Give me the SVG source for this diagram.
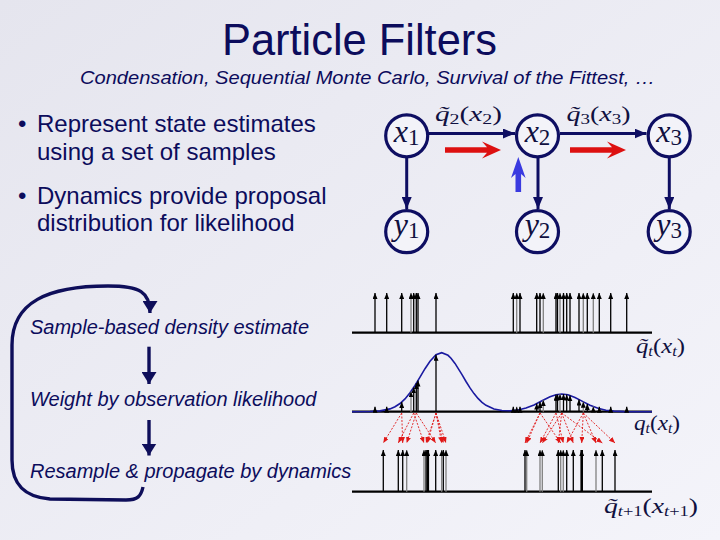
<svg xmlns="http://www.w3.org/2000/svg" width="720" height="540" viewBox="0 0 720 540">
<defs>
<linearGradient id="bg" x1="0" y1="0" x2="1" y2="1"><stop offset="0" stop-color="#e5e5ee"/><stop offset="1" stop-color="#f4f4fa"/></linearGradient>
<marker id="ak" viewBox="0 0 6 5" refX="6" refY="2.5" markerWidth="6" markerHeight="5" markerUnits="userSpaceOnUse" orient="auto"><path d="M0,0 L6,2.5 L0,5 z" fill="#000"/></marker>
<marker id="ar" viewBox="0 0 6 5" refX="6" refY="2.5" markerWidth="6" markerHeight="5" markerUnits="userSpaceOnUse" orient="auto"><path d="M0,0 L6,2.5 L0,5 z" fill="#e01818"/></marker>
<marker id="an" viewBox="0 0 12 10" refX="12" refY="5" markerWidth="12" markerHeight="10" markerUnits="userSpaceOnUse" orient="auto"><path d="M0,0 L12,5 L0,10 z" fill="#0e0e62"/></marker>
<marker id="af" viewBox="0 0 12 15" refX="12" refY="7.5" markerWidth="12" markerHeight="15" markerUnits="userSpaceOnUse" orient="auto"><path d="M0,0 L12,7.5 L0,15 z" fill="#0e0e5a"/></marker>
</defs>
<style>
.t{font-family:"Liberation Sans",Arial,sans-serif;fill:#0c0c5c}
.it{font-style:italic}
.m{font-family:"Liberation Serif","DejaVu Serif",serif;fill:#101040}
.i{font-style:italic}
.node{fill:#f3f3f9;stroke:#0e0e62;stroke-width:3.2}
.edge{stroke:#0e0e62;stroke-width:3;fill:none;marker-end:url(#an)}
.flow{stroke:#0e0e5a;stroke-width:3.4;fill:none;marker-end:url(#af)}
.pk{stroke:#000;stroke-width:1.3;marker-end:url(#ak)}
.pg{stroke:#808080;stroke-width:1.3;marker-end:url(#ak)}
.pt{stroke:#000;stroke-width:2.6;marker-end:url(#ak)}
.rd{stroke:#e01818;stroke-width:0.9;stroke-dasharray:2 1.5;fill:none;marker-end:url(#ar)}
.base{stroke:#000;stroke-width:2.2}
</style>
<rect width="720" height="540" fill="url(#bg)"/>

<text class="t" x="359.5" y="55" font-size="45" text-anchor="middle" textLength="275" lengthAdjust="spacingAndGlyphs">Particle Filters</text>
<text class="t it" x="80" y="84" font-size="19" textLength="575" lengthAdjust="spacingAndGlyphs">Condensation, Sequential Monte Carlo, Survival of the Fittest, …</text>

<g id="bullets" class="t" font-size="24">
<text x="18" y="132">•</text><text x="37" y="132">Represent state estimates</text>
<text x="37" y="160">using a set of samples</text>
<text x="18" y="204">•</text><text x="37" y="204">Dynamics provide proposal</text>
<text x="37" y="231">distribution for likelihood</text>
</g>

<g id="flow-steps" class="t it" font-size="20">
<text id="step-sample" x="30" y="334">Sample-based density estimate</text>
<text id="step-weight" x="30" y="406">Weight by observation likelihood</text>
<text id="step-resample" x="30" y="478">Resample &amp; propagate by dynamics</text>
</g>
<g id="flow-connectors">
<line class="flow" x1="149" y1="346.7" x2="149" y2="384"/>
<line class="flow" x1="149" y1="420" x2="149" y2="455.5"/>
<path class="flow" d="M143,487 C141,496 138,500 126,500 L50,499 C25,497 12,485 12,460 L12,345 C12,302 48,286 108,286 C140,286 150,292 150,313"/>
</g>

<g id="graph-connectors">
<line class="edge" x1="429" y1="133.5" x2="515" y2="133.5"/>
<line class="edge" x1="560" y1="133.5" x2="646.5" y2="133.5"/>
<line class="edge" x1="406.7" y1="158" x2="406.7" y2="209"/>
<line class="edge" x1="538" y1="158" x2="538" y2="209"/>
<line class="edge" x1="669.3" y1="158" x2="669.3" y2="209"/>
</g>
<g id="edge-labels" class="m" font-size="22">
<text x="435" y="121" textLength="67" lengthAdjust="spacingAndGlyphs"><tspan class="i">q̃</tspan><tspan font-size="15" dy="3">2</tspan><tspan dy="-3">(</tspan><tspan class="i">x</tspan><tspan font-size="15" dy="3">2</tspan><tspan dy="-3">)</tspan></text>
<text x="566.5" y="121" textLength="64" lengthAdjust="spacingAndGlyphs"><tspan class="i">q̃</tspan><tspan font-size="15" dy="3">3</tspan><tspan dy="-3">(</tspan><tspan class="i">x</tspan><tspan font-size="15" dy="3">3</tspan><tspan dy="-3">)</tspan></text>
</g>
<g id="node-x1"><circle class="node" cx="406.7" cy="135.8" r="21"/><text class="m" x="406.7" y="142" text-anchor="middle"><tspan class="i" font-size="32">x</tspan><tspan font-size="23" dy="3">1</tspan></text></g>
<g id="node-x2"><circle class="node" cx="537.5" cy="135.8" r="21"/><text class="m" x="537.5" y="142" text-anchor="middle"><tspan class="i" font-size="32">x</tspan><tspan font-size="23" dy="3">2</tspan></text></g>
<g id="node-x3"><circle class="node" cx="669.2" cy="135.8" r="21"/><text class="m" x="669.2" y="142" text-anchor="middle"><tspan class="i" font-size="32">x</tspan><tspan font-size="23" dy="3">3</tspan></text></g>
<g id="node-y1"><circle class="node" cx="406.7" cy="231.7" r="21"/><text class="m" x="406.7" y="235" text-anchor="middle"><tspan class="i" font-size="32">y</tspan><tspan font-size="23" dy="3">1</tspan></text></g>
<g id="node-y2"><circle class="node" cx="537.5" cy="231.7" r="21"/><text class="m" x="537.5" y="235" text-anchor="middle"><tspan class="i" font-size="32">y</tspan><tspan font-size="23" dy="3">2</tspan></text></g>
<g id="node-y3"><circle class="node" cx="669.2" cy="231.7" r="21"/><text class="m" x="669.2" y="235" text-anchor="middle"><tspan class="i" font-size="32">y</tspan><tspan font-size="23" dy="3">3</tspan></text></g>

<g id="highlight-arrows">
<polygon fill="#dd1010" points="445,147.2 487,147.2 482,141.5 501,150 482,158.5 487,152.8 445,152.8"/>
<polygon fill="#dd1010" points="570,147.2 612,147.2 607,141.5 626,150 607,158.5 612,152.8 570,152.8"/>
<polygon fill="#3a3ae0" points="515.5,192 515.5,174 511,178 518.3,157 525.6,178 521.1,174 521.1,192"/>
</g>

<g id="row-proposal">
<line class="base" x1="352" y1="332.7" x2="652" y2="332.7"/>
<g class="pk">
<line x1="375" y1="332.7" x2="375" y2="293"/><line x1="386.7" y1="332.7" x2="386.7" y2="293"/><line x1="401.7" y1="332.7" x2="401.7" y2="293"/>
<line x1="413.7" y1="332.7" x2="413.7" y2="293"/><line x1="416.3" y1="332.7" x2="416.3" y2="293"/><line x1="418" y1="332.7" x2="418" y2="293"/><line x1="436" y1="332.7" x2="436" y2="293"/>
<line x1="513.3" y1="332.7" x2="513.3" y2="293"/><line x1="520" y1="332.7" x2="520" y2="293"/><line x1="536.7" y1="332.7" x2="536.7" y2="293"/><line x1="540" y1="332.7" x2="540" y2="293"/>
<line x1="556" y1="332.7" x2="556" y2="293"/><line x1="557.5" y1="332.7" x2="557.5" y2="293"/><line x1="563.5" y1="332.7" x2="563.5" y2="293"/><line x1="566.7" y1="332.7" x2="566.7" y2="293"/><line x1="570" y1="332.7" x2="570" y2="293"/>
<line x1="579" y1="332.7" x2="579" y2="293"/><line x1="587.3" y1="332.7" x2="587.3" y2="293"/><line x1="599.3" y1="332.7" x2="599.3" y2="293"/><line x1="610.7" y1="332.7" x2="610.7" y2="293"/><line x1="626.7" y1="332.7" x2="626.7" y2="293"/>
</g>
<g class="pg">
<line x1="411" y1="332.7" x2="411" y2="293"/><line x1="516.7" y1="332.7" x2="516.7" y2="293"/><line x1="543.3" y1="332.7" x2="543.3" y2="293"/><line x1="560" y1="332.7" x2="560" y2="293"/><line x1="583.3" y1="332.7" x2="583.3" y2="293"/><line x1="593.3" y1="332.7" x2="593.3" y2="293"/>
</g>
<text class="m" x="636" y="353" font-size="21" textLength="49" lengthAdjust="spacingAndGlyphs"><tspan class="i">q̃</tspan><tspan class="i" font-size="14" dy="3">t</tspan><tspan dy="-3">(</tspan><tspan class="i">x</tspan><tspan class="i" font-size="14" dy="3">t</tspan><tspan dy="-3">)</tspan></text>
</g>

<g id="row-weighted">
<line class="base" x1="352" y1="411.7" x2="652" y2="411.7"/>
<path fill="none" stroke="#1a1aa0" stroke-width="1.6" d="M352,411.7 L370,411.5 L380,410.9 L390,408.9 L395,406.7 L400,403.5 L405,398.9 L410,392.8 L415,385.4 L420,377.1 L425,368.7 L430,361.2 L436,354.8 L441.7,352.7 L448,355.3 L451,358.2 L455,363.4 L462,374.7 L466,381.5 L470,387.9 L474,393.6 L478,398.4 L482,402.3 L486,405.3 L494,409 L502,410.5 L510,410.8 L518,410 L526,408.1 L534,404.9 L542,400.8 L550,396.8 L556,394.7 L561.7,394 L568,394.8 L575,397.5 L582,401.1 L590,405.2 L598,408.3 L606,410.2 L614,411.1 L624,411.6 L652,411.7"/>
<g class="pk">
<line x1="375" y1="411.7" x2="375" y2="406.7"/><line x1="386.7" y1="411.7" x2="386.7" y2="406.7"/><line x1="401.7" y1="411.7" x2="401.7" y2="402.1"/>
<line x1="413.7" y1="411.7" x2="413.7" y2="387.4"/><line x1="416.3" y1="411.7" x2="416.3" y2="383.3"/><line x1="418" y1="411.7" x2="418" y2="380.5"/><line x1="436" y1="411.7" x2="436" y2="354.8"/>
<line x1="513.3" y1="411.7" x2="513.3" y2="406.7"/><line x1="520" y1="411.7" x2="520" y2="406.7"/><line x1="536.7" y1="411.7" x2="536.7" y2="403.6"/><line x1="540" y1="411.7" x2="540" y2="401.9"/>
<line x1="556" y1="411.7" x2="556" y2="394.7"/><line x1="557.5" y1="411.7" x2="557.5" y2="394.5"/><line x1="563.5" y1="411.7" x2="563.5" y2="394.1"/><line x1="566.7" y1="411.7" x2="566.7" y2="394.6"/><line x1="570" y1="411.7" x2="570" y2="395.4"/>
<line x1="579" y1="411.7" x2="579" y2="399.5"/><line x1="587.3" y1="411.7" x2="587.3" y2="403.9"/><line x1="599.3" y1="411.7" x2="599.3" y2="406.7"/><line x1="610.7" y1="411.7" x2="610.7" y2="406.7"/><line x1="626.7" y1="411.7" x2="626.7" y2="406.7"/>
</g>
<g class="pg">
<line x1="411" y1="411.7" x2="411" y2="391.4"/><line x1="516.7" y1="411.7" x2="516.7" y2="406.7"/><line x1="543.3" y1="411.7" x2="543.3" y2="400.1"/><line x1="560" y1="411.7" x2="560" y2="394.1"/><line x1="583.3" y1="411.7" x2="583.3" y2="401.8"/><line x1="593.3" y1="411.7" x2="593.3" y2="406.5"/>
</g>
<text class="m" x="634" y="430" font-size="21" textLength="46" lengthAdjust="spacingAndGlyphs"><tspan class="i">q</tspan><tspan class="i" font-size="14" dy="3">t</tspan><tspan dy="-3">(</tspan><tspan class="i">x</tspan><tspan class="i" font-size="14" dy="3">t</tspan><tspan dy="-3">)</tspan></text>
</g>

<g id="resample-connectors" class="rd">
<line x1="401.7" y1="413" x2="383.3" y2="443"/><line x1="413.7" y1="413" x2="398.3" y2="443"/><line x1="401.7" y1="413" x2="402.7" y2="443"/><line x1="416.3" y1="413" x2="406.7" y2="443"/>
<line x1="413.7" y1="413" x2="424" y2="443"/><line x1="436" y1="413" x2="426" y2="443"/><line x1="436" y1="413" x2="427.3" y2="443"/><line x1="416.3" y1="413" x2="435.7" y2="443"/>
<line x1="436" y1="413" x2="441.7" y2="443"/><line x1="436" y1="413" x2="443.3" y2="443"/><line x1="436" y1="413" x2="446" y2="443"/>
<line x1="540" y1="413" x2="525" y2="443"/><line x1="540" y1="413" x2="526.7" y2="443"/><line x1="556" y1="413" x2="540" y2="443"/><line x1="561.7" y1="413" x2="542.3" y2="443"/>
<line x1="561.7" y1="413" x2="558.3" y2="443"/><line x1="540" y1="413" x2="560.7" y2="443"/><line x1="556" y1="413" x2="563.3" y2="443"/><line x1="583.3" y1="413" x2="566.7" y2="443"/>
<line x1="561.7" y1="413" x2="573.3" y2="443"/><line x1="583.3" y1="413" x2="581.7" y2="443"/><line x1="583.3" y1="413" x2="596" y2="443"/><line x1="561.7" y1="413" x2="602.3" y2="443"/><line x1="583.3" y1="413" x2="615" y2="443"/>
</g>

<g id="row-resampled">
<line class="base" x1="352" y1="491.7" x2="652" y2="491.7"/>
<g class="pk">
<line x1="383.3" y1="491.7" x2="383.3" y2="450"/><line x1="398.3" y1="491.7" x2="398.3" y2="450"/><line x1="402.7" y1="491.7" x2="402.7" y2="450"/>
<line x1="426" y1="491.7" x2="426" y2="450"/><line x1="435.7" y1="491.7" x2="435.7" y2="450"/><line x1="443.3" y1="491.7" x2="443.3" y2="450"/>
<line x1="525" y1="491.7" x2="525" y2="450"/><line x1="558.3" y1="491.7" x2="558.3" y2="450"/><line x1="566.7" y1="491.7" x2="566.7" y2="450"/><line x1="573.3" y1="491.7" x2="573.3" y2="450"/>
<line x1="602.3" y1="491.7" x2="602.3" y2="450"/><line x1="615" y1="491.7" x2="615" y2="450"/>
</g>
<g class="pt">
<line x1="427.8" y1="491.7" x2="427.8" y2="450"/><line x1="581.7" y1="491.7" x2="581.7" y2="450"/>
</g>
<g class="pg">
<line x1="406.7" y1="491.7" x2="406.7" y2="450"/><line x1="424" y1="491.7" x2="424" y2="450"/><line x1="441.7" y1="491.7" x2="441.7" y2="450"/><line x1="446" y1="491.7" x2="446" y2="450"/>
<line x1="526.7" y1="491.7" x2="526.7" y2="450"/><line x1="540" y1="491.7" x2="540" y2="450"/><line x1="542.3" y1="491.7" x2="542.3" y2="450"/><line x1="560.7" y1="491.7" x2="560.7" y2="450"/><line x1="563.3" y1="491.7" x2="563.3" y2="450"/><line x1="596" y1="491.7" x2="596" y2="450"/>
</g>
<text class="m" x="604" y="513" font-size="21" textLength="94" lengthAdjust="spacingAndGlyphs"><tspan class="i">q̃</tspan><tspan class="i" font-size="14" dy="3">t</tspan><tspan font-size="14">+1</tspan><tspan dy="-3">(</tspan><tspan class="i">x</tspan><tspan class="i" font-size="14" dy="3">t</tspan><tspan font-size="14">+1</tspan><tspan dy="-3">)</tspan></text>
</g>
</svg>
